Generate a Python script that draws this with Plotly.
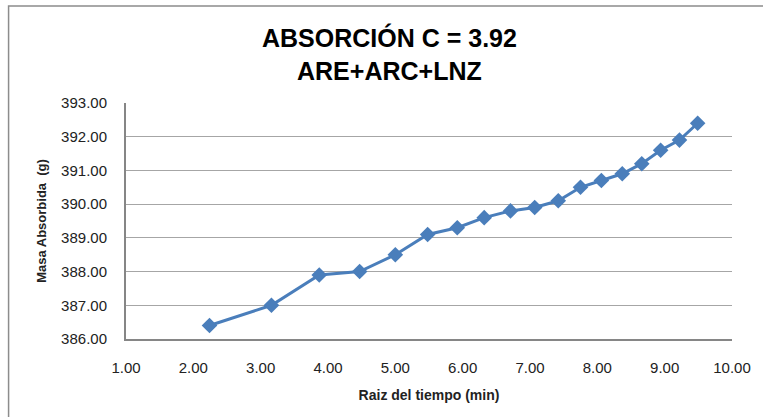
import plotly.graph_objects as go

# Square root of elapsed time (min) and absorbed mass (g)
raiz_tiempo = [2.24, 3.16, 3.87, 4.47, 5.00, 5.48, 5.92, 6.32, 6.71,
               7.07, 7.42, 7.75, 8.06, 8.37, 8.66, 8.94, 9.22, 9.49]
masa_absorbida = [386.4, 387.0, 387.9, 388.0, 388.5, 389.1, 389.3, 389.6, 389.8,
                  389.9, 390.1, 390.5, 390.7, 390.9, 391.2, 391.6, 391.9, 392.4]

x_ticks = [1, 2, 3, 4, 5, 6, 7, 8, 9, 10]
y_ticks = [386, 387, 388, 389, 390, 391, 392, 393]

W, H = 763, 417
L, R, T, B = 126, 28, 103, 78
pw, ph = W - L - R, H - T - B

FONT = "Liberation Sans Narrow, Liberation Sans, Arial, sans-serif"
BLUE = "#4A7EBB"

fig = go.Figure(
    go.Scatter(
        x=raiz_tiempo, y=masa_absorbida, mode="lines+markers",
        line=dict(color=BLUE, width=3),
        marker=dict(symbol="diamond", size=12, color=BLUE),
        showlegend=False,
    )
)

def px_to_paper_x(px):
    return (px - L) / pw

def px_to_paper_y(py):
    return (H - B - py) / ph

fig.update_layout(
    width=W, height=H,
    margin=dict(l=L, r=R, t=T, b=B),
    paper_bgcolor="white", plot_bgcolor="white",
    font=dict(family=FONT, color="#222222"),
    xaxis=dict(
        range=[1, 10], tickvals=x_ticks,
        ticktext=[f"{v:.2f}" for v in x_ticks],
        showgrid=False, zeroline=False,
        showline=True, linecolor="#868686", linewidth=2,
        ticks="", ticklabelstandoff=14,
        tickfont=dict(size=15, family=FONT),
        title=dict(text="<b>Raiz del tiempo (min)</b>",
                   font=dict(size=14, family=FONT), standoff=15),
    ),
    yaxis=dict(
        range=[386, 393], tickvals=y_ticks,
        ticktext=[f"{v:.2f}" for v in y_ticks],
        showgrid=True, gridcolor="#A6A6A6", gridwidth=1.3,
        zeroline=False,
        showline=True, linecolor="#868686", linewidth=2,
        ticks="", ticklabelstandoff=14,
        tickfont=dict(size=15, family=FONT),
        title=dict(text="<b>Masa Absorbida  (g)</b>",
                   font=dict(size=13, family=FONT), standoff=12),
    ),
    annotations=[
        dict(text="<b>ABSORCIÓN C = 3.92</b>", xref="paper", yref="paper",
             x=px_to_paper_x(391), y=px_to_paper_y(37), showarrow=False,
             font=dict(size=25, family=FONT, color="#000000"),
             xanchor="center", yanchor="middle"),
        dict(text="<b>ARE+ARC+LNZ</b>", xref="paper", yref="paper",
             x=px_to_paper_x(391), y=px_to_paper_y(71), showarrow=False,
             font=dict(size=25, family=FONT, color="#000000"),
             xanchor="center", yanchor="middle"),
    ],
    shapes=[
        dict(type="rect", xref="paper", yref="paper",
             x0=px_to_paper_x(8), y0=px_to_paper_y(H + 40),
             x1=px_to_paper_x(W + 40), y1=px_to_paper_y(6),
             line=dict(color="#8C8C8C", width=1.5), layer="below"),
    ],
)

fig.write_html("out.html")
